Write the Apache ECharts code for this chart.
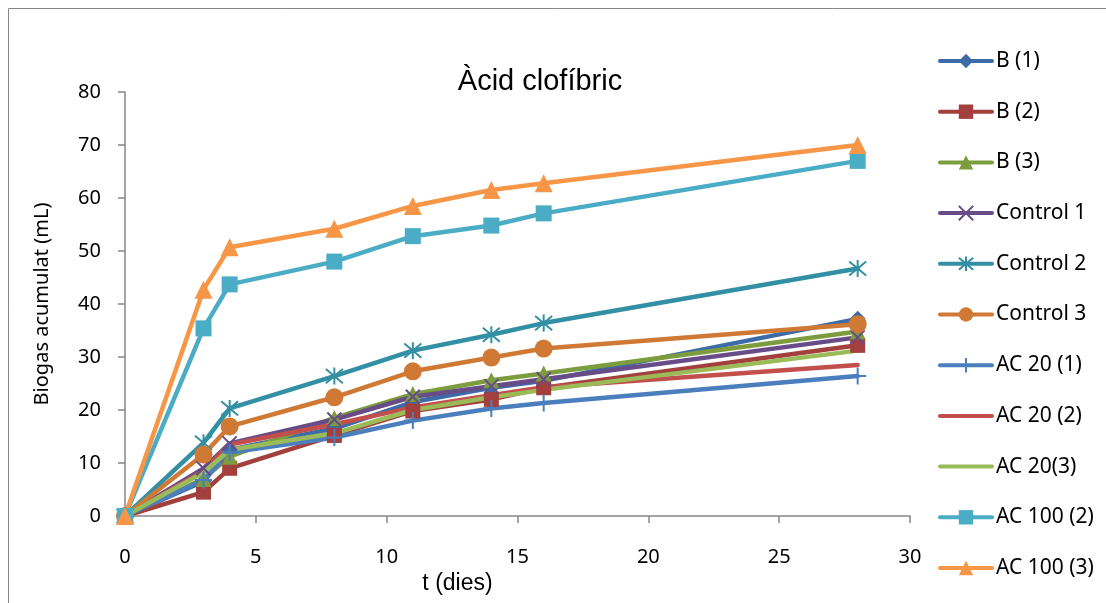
<!DOCTYPE html>
<html>
<head>
    <meta charset="utf-8">
    <title>Àcid clofíbric</title>
    <script src="https://cdn.jsdelivr.net/npm/echarts@6/dist/echarts.min.js"></script>
    <style>
        html, body { margin: 0; padding: 0; background: #fff; }
    </style>
</head>
<body>
    <div id="main" style="width: 1106px;height:603px;"></div>
    <script type="text/javascript">
        // dies
        var dies = [0, 3, 4, 8, 11, 14, 16, 28];
        var seriesNames = ['B (1)', 'B (2)', 'B (3)', 'Control 1', 'Control 2', 'Control 3',
            'AC 20 (1)', 'AC 20 (2)', 'AC 20(3)', 'AC 100 (2)', 'AC 100 (3)'];
        var b1 = [0, 6.5, 12.5, 16.5, 21.5, 24.2, 25.5, 37.2];
        var b2 = [0, 4.5, 9, 15.2, 19.8, 22, 24.2, 32.2];
        var b3 = [0, 7, 11.2, 18.5, 23, 25.6, 26.9, 34.8];
        var control1 = [0, 9, 13.7, 18.2, 22.5, 24.5, 25.8, 33.7];
        var control2 = [0, 13.8, 20.3, 26.4, 31.2, 34.2, 36.4, 46.7];
        var control3 = [0, 11.6, 16.9, 22.4, 27.3, 29.9, 31.6, 36.2];
        var ac20_1 = [0, 6.8, 12, 14.8, 18, 20.3, 21.3, 26.4];
        var ac20_2 = [0, 8.5, 13.5, 17.3, 20.5, 22.8, 24.3, 28.5];
        var ac20_3 = [0, 8.2, 12.5, 15.6, 20, 22.4, 23.8, 31.2];
        var ac100_2 = [0, 35.4, 43.7, 48, 52.8, 54.8, 57.1, 67];
        var ac100_3 = [0, 42.7, 50.7, 54.2, 58.5, 61.5, 62.8, 70];

        var allValues = [b1, b2, b3, control1, control2, control3, ac20_1, ac20_2, ac20_3, ac100_2, ac100_3];
        var colors = ['#3c6ba7', '#a33f3c', '#7c9c3e', '#674c88', '#3390a4', '#d07934',
            '#4a7ebd', '#c24f4c', '#9bbb59', '#4bacc6', '#f79646'];
        var xPath = 'path://M0,0L10,10M10,0L0,10';
        var starPath = 'path://M0,0L10,10M10,0L0,10M5,-1L5,11';
        var plusPath = 'path://M5,0L5,10M0,5L10,5';
        var symbols = ['diamond', 'rect', 'triangle', xPath, starPath, 'circle', plusPath, 'none', 'none', 'rect', 'triangle'];
        var sizes = [16, 15, 16, 14, 17, 18, 17, 0, 0, 16, 18];

        var font = 'Liberation Sans, Arial, sans-serif';
        var font2 = 'Noto Sans, sans-serif';

        var series = [];
        var legendData = [];
        for (var i = 0; i < seriesNames.length; i++) {
            var pts = [];
            for (var j = 0; j < dies.length; j++) {
                pts.push([dies[j], allValues[i][j]]);
            }
            var isPath = symbols[i].indexOf('path://') === 0;
            series.push({
                name: seriesNames[i],
                type: 'line',
                data: pts,
                symbol: symbols[i],
                symbolSize: sizes[i],
                showAllSymbol: true,
                lineStyle: { color: colors[i], width: 4.5, cap: 'round', join: 'round' },
                itemStyle: {
                    color: colors[i],
                    borderColor: colors[i],
                    borderWidth: isPath ? 2 : 0,
                    opacity: 1
                },
                emphasis: { disabled: true }
            });
            if (symbols[i] === 'none') {
                legendData.push({ name: seriesNames[i], itemStyle: { opacity: 0 } });
            } else {
                legendData.push({ name: seriesNames[i] });
            }
        }

        var myChart = echarts.init(document.getElementById('main'));
        var option = {
            animation: false,
            color: colors,
            title: {
                text: 'Àcid clofíbric',
                left: 535,
                textAlign: 'center',
                top: 62,
                textStyle: { fontFamily: font, fontSize: 29, fontWeight: 'normal', color: '#000' }
            },
            graphic: [{
                type: 'rect',
                shape: { x: 8.5, y: 8.5, width: 1120, height: 620 },
                style: { fill: 'none', stroke: '#868686', lineWidth: 1 },
                silent: true
            }],
            legend: {
                orient: 'vertical',
                left: 938,
                top: 50.5,
                padding: 0,
                itemWidth: 52,
                itemHeight: 18,
                itemGap: 29.7,
                lineStyle: { width: 4, cap: 'round' },
                textStyle: { fontFamily: font2, fontSize: 21, color: '#000', padding: [0, 0, 0, -1] },
                data: legendData
            },
            grid: {
                left: 125,
                right: 196,
                top: 92,
                bottom: 87,
                containLabel: false
            },
            xAxis: {
                type: 'value',
                min: 0,
                max: 30,
                interval: 5,
                name: 't (dies)',
                nameLocation: 'middle',
                nameGap: 51,
                nameTextStyle: { fontFamily: font, fontSize: 23, color: '#000', padding: [0, 120, 0, 0] },
                axisLine: { show: true, lineStyle: { color: '#868686', width: 1.5 } },
                axisTick: { show: true, length: 7, lineStyle: { color: '#868686', width: 1.5 } },
                axisLabel: { fontFamily: font2, fontSize: 20, color: '#000', margin: 31 },
                splitLine: { show: false }
            },
            yAxis: {
                type: 'value',
                min: 0,
                max: 80,
                interval: 10,
                name: 'Biogas acumulat (mL)',
                nameLocation: 'middle',
                nameGap: 73,
                nameTextStyle: { fontFamily: font2, fontSize: 20, color: '#000' },
                axisLine: { show: true, lineStyle: { color: '#868686', width: 1.5 } },
                axisTick: { show: true, length: 7, lineStyle: { color: '#868686', width: 1.5 } },
                axisLabel: { fontFamily: font2, fontSize: 20, color: '#000', margin: 24 },
                splitLine: { show: false }
            },
            series: series
        };
        myChart.setOption(option);
    </script>
</body>
</html>
